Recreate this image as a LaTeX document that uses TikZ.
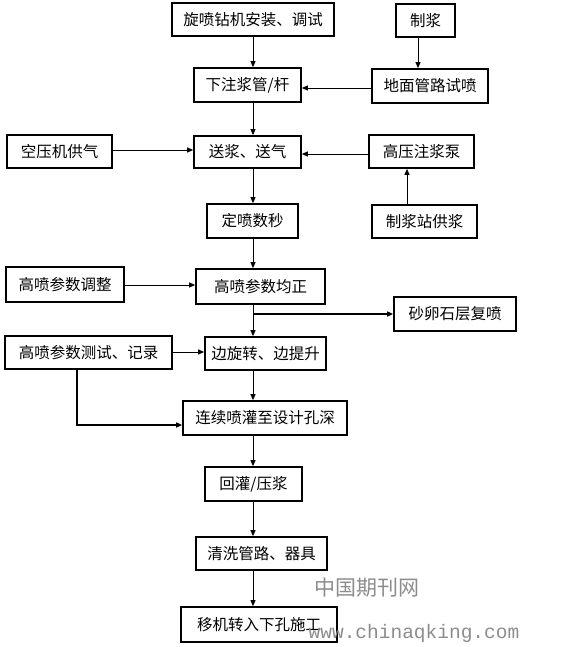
\documentclass[tikz,border=0pt]{standalone}
\usepackage{fontspec}
\newfontfamily\cjk{Noto Sans CJK SC}
\newfontfamily\wmono{Liberation Mono}
\usetikzlibrary{arrows.meta,calc}
\tikzset{
  boxstyle/.style={draw=black, line width=1.7pt, inner sep=0pt, font=\cjk\fontsize{15.5}{18}\selectfont, text=black},
  arr/.style={line width=0.9pt, -{Triangle[length=6pt,width=5pt]}},
  thickarr/.style={line width=1.8pt, -{Triangle[length=6pt,width=5pt]}},
  wmark/.style={text=black!45, inner sep=0pt}
}
\newcommand{\bx}[6]{%
  \node[boxstyle, minimum width={#3-#2}, minimum height={#5-#4}] (#1) at ({(#2+#3)/2},{(#4+#5)/2}) {#6};}
\begin{document}
\begin{tikzpicture}[x=1pt,y=-1pt]
\useasboundingbox (0,0) rectangle (560,647);
\bx{b1}{172}{334}{3}{36}{旋喷钻机安装、调试}
\bx{b2}{396}{455}{4}{37}{制浆}
\bx{b3}{194}{301}{68}{102}{下注浆管/杆}
\bx{b4}{372}{488}{69}{103}{地面管路试喷}
\bx{b5}{7}{112}{135}{168}{空压机供气}
\bx{b6}{194}{301}{136}{168}{送浆、送气}
\bx{b7}{369}{474}{135}{168}{高压注浆泵}
\bx{b8}{207}{298}{204}{238}{定喷数秒}
\bx{b9}{372}{477}{205}{238}{制浆站供浆}
\bx{b10}{6}{124}{267}{302}{高喷参数调整}
\bx{b11}{196}{325}{269}{304}{高喷参数均正}
\bx{b12}{394}{516}{297}{331}{砂卵石层复喷}
\bx{b13}{5}{172}{336}{369}{高喷参数测试、记录}
\bx{b14}{205}{326}{337}{370}{边旋转、边提升}
\bx{b15}{183}{347}{401}{435}{连续喷灌至设计孔深}
\bx{b16}{205}{302}{467}{501}{回灌/压浆}
\bx{b17}{196}{327}{537}{570}{清洗管路、器具}
\bx{b18}{181}{337}{607}{642}{移机转入下孔施工}
\coordinate (spine) at (253,0);
\coordinate (rx) at (418,0);
\coordinate (px) at (407,0);
\coordinate (tx) at (77,0);
\coordinate (brk) at (253,314);
% main spine
\draw[arr] (spine |- b1.south) -- (spine |- b3.north);
\draw[arr] (spine |- b3.south) -- (spine |- b6.north);
\draw[arr] (spine |- b6.south) -- (spine |- b8.north);
\draw[arr] (spine |- b8.south) -- (spine |- b11.north);
\draw[arr] (spine |- b11.south) -- (spine |- b14.north);
\draw[arr] (spine |- b14.south) -- (spine |- b15.north);
\draw[arr] (spine |- b15.south) -- (spine |- b16.north);
\draw[arr] (spine |- b16.south) -- (spine |- b17.north);
\draw[arr] (spine |- b17.south) -- (spine |- b18.north);
% right side
\draw[arr] (rx |- b2.south) -- (rx |- b4.north);
\draw[arr] (b4.west |- 0,88) -- (b3.east |- 0,88);
\draw[arr] (b7.west |- 0,154) -- (b6.east |- 0,154);
\draw[arr] (px |- b9.north) -- (px |- b7.south);
% left side
\draw[arr] (b5.east |- 0,150) -- (b6.west |- 0,150);
\draw[arr] (b10.east |- 0,285) -- (b11.west |- 0,285);
\draw[arr] (b13.east |- 0,352) -- (b14.west |- 0,352);
% thick branches
\draw[thickarr] (brk) -- (b12.west |- brk);
\draw[thickarr] (tx |- b13.south) -- (tx |- 0,425) -- (b15.west |- 0,425);
% watermark
\node[wmark, font=\cjk\fontsize{21}{24}\selectfont] (wm1) at (367,588) {中国期刊网};
\node[wmark, font=\wmono\fontsize{19.5}{22}\selectfont] (wm2) at (414,633) {www.chinaqking.com};
\end{tikzpicture}
\end{document}
